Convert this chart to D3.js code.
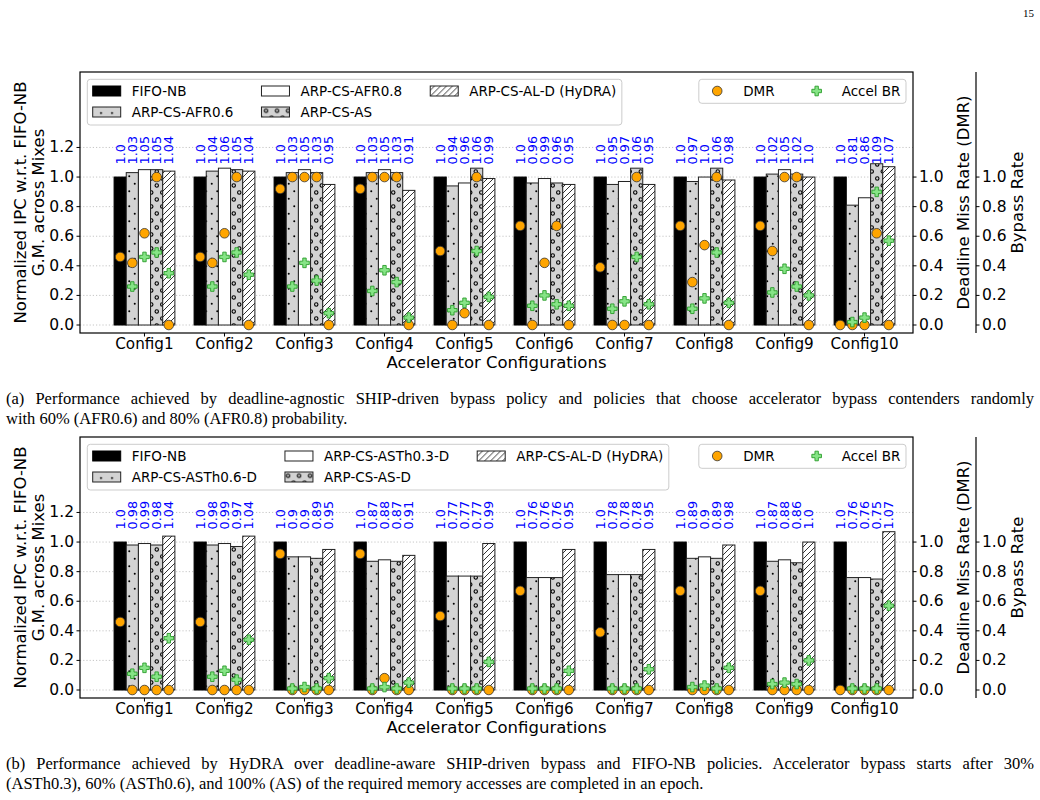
<!DOCTYPE html>
<html>
<head>
<meta charset="utf-8">
<script src="https://cdn.jsdelivr.net/npm/d3@7"></script>
<style>
    body { margin: 0; background: #fff; }
    svg text { font-family: "DejaVu Sans", sans-serif; }
    svg text.serif { font-family: "Liberation Serif", "Times New Roman", serif; }
</style>
</head>
<body>
<svg id="chart" width="1040" height="800"></svg>
<script>
const configs = ['Config1', 'Config2', 'Config3', 'Config4', 'Config5', 'Config6', 'Config7', 'Config8', 'Config9', 'Config10'];

// panel (a)
const seriesA = ['FIFO-NB', 'ARP-CS-AFR0.6', 'ARP-CS-AFR0.8', 'ARP-CS-AS', 'ARP-CS-AL-D (HyDRA)'];
const ipcA = [
    [1.0, 1.0, 1.0, 1.0, 1.0, 1.0, 1.0, 1.0, 1.0, 1.0],
    [1.03, 1.04, 1.03, 1.03, 0.94, 0.96, 0.95, 0.97, 1.02, 0.81],
    [1.05, 1.06, 1.05, 1.05, 0.96, 0.99, 0.97, 1.0, 1.05, 0.86],
    [1.05, 1.05, 1.03, 1.03, 1.06, 0.96, 1.06, 1.06, 1.02, 1.09],
    [1.04, 1.04, 0.95, 0.91, 0.99, 0.95, 0.95, 0.98, 1.0, 1.07]
];
const dmrA = [
    [0.46, 0.46, 0.92, 0.92, 0.5, 0.67, 0.39, 0.67, 0.67, 0.0],
    [0.42, 0.42, 1.0, 1.0, 0.0, 0.0, 0.0, 0.29, 0.5, 0.0],
    [0.62, 0.62, 1.0, 1.0, 0.08, 0.42, 0.0, 0.54, 1.0, 0.0],
    [1.0, 1.0, 1.0, 1.0, 1.0, 0.67, 1.0, 1.0, 1.0, 0.62],
    [0.0, 0.0, 0.0, 0.0, 0.0, 0.0, 0.0, 0.0, 0.0, 0.0]
];
const brA = [
    null,
    [0.26, 0.26, 0.26, 0.23, 0.10, 0.13, 0.11, 0.11, 0.22, 0.02],
    [0.46, 0.46, 0.42, 0.37, 0.15, 0.20, 0.16, 0.18, 0.38, 0.05],
    [0.49, 0.49, 0.30, 0.29, 0.50, 0.14, 0.46, 0.49, 0.26, 0.90],
    [0.35, 0.34, 0.08, 0.05, 0.19, 0.13, 0.14, 0.15, 0.20, 0.57]
];

// panel (b)
const seriesB = ['FIFO-NB', 'ARP-CS-ASTh0.6-D', 'ARP-CS-ASTh0.3-D', 'ARP-CS-AS-D', 'ARP-CS-AL-D (HyDRA)'];
const ipcB = [
    [1.0, 1.0, 1.0, 1.0, 1.0, 1.0, 1.0, 1.0, 1.0, 1.0],
    [0.98, 0.98, 0.9, 0.87, 0.77, 0.76, 0.78, 0.89, 0.87, 0.76],
    [0.99, 0.99, 0.9, 0.88, 0.77, 0.76, 0.78, 0.9, 0.88, 0.76],
    [0.98, 0.97, 0.89, 0.87, 0.77, 0.76, 0.78, 0.89, 0.86, 0.75],
    [1.04, 1.04, 0.95, 0.91, 0.99, 0.95, 0.95, 0.98, 1.0, 1.07]
];
const dmrB = [
    [0.46, 0.46, 0.92, 0.92, 0.5, 0.67, 0.39, 0.67, 0.67, 0.0],
    [0.0, 0.0, 0.0, 0.0, 0.0, 0.0, 0.0, 0.0, 0.0, 0.0],
    [0.0, 0.0, 0.0, 0.08, 0.0, 0.0, 0.0, 0.0, 0.0, 0.0],
    [0.0, 0.0, 0.0, 0.0, 0.0, 0.0, 0.0, 0.0, 0.0, 0.0],
    [0.0, 0.0, 0.0, 0.0, 0.0, 0.0, 0.0, 0.0, 0.0, 0.0]
];
const brB = [
    null,
    [0.11, 0.09, 0.01, 0.01, 0.01, 0.01, 0.01, 0.02, 0.04, 0.01],
    [0.15, 0.13, 0.02, 0.02, 0.01, 0.01, 0.01, 0.03, 0.05, 0.01],
    [0.09, 0.07, 0.01, 0.01, 0.01, 0.01, 0.01, 0.01, 0.04, 0.01],
    [0.35, 0.34, 0.08, 0.05, 0.19, 0.13, 0.14, 0.15, 0.20, 0.57]
];

const leftTicks = [0, 0.2, 0.4, 0.6, 0.8, 1.0, 1.2];
const rightTicks = [0, 0.2, 0.4, 0.6, 0.8, 1.0];
const markerLabels = ['DMR', 'Accel BR'];

const captionA = [
    '(a) Performance achieved by deadline-agnostic SHIP-driven bypass policy and policies that choose accelerator bypass contenders randomly',
    'with 60% (AFR0.6) and 80% (AFR0.8) probability.'
];
const captionB = [
    '(b) Performance achieved by HyDRA over deadline-aware SHIP-driven bypass and FIFO-NB policies. Accelerator bypass starts after 30%',
    '(ASTh0.3), 60% (ASTh0.6), and 100% (AS) of the required memory accesses are completed in an epoch.'
];

const svg = d3.select('#chart');
const defs = svg.append('defs');

// hatch patterns
const pDots = defs.append('pattern').attr('id', 'dots')
    .attr('patternUnits', 'userSpaceOnUse').attr('width', 11).attr('height', 15);
pDots.append('rect').attr('width', 11).attr('height', 15).attr('fill', '#d3d3d3');
[[2.75, 3.75], [8.25, 11.25]].forEach(([cx, cy]) => {
    pDots.append('circle').attr('cx', cx).attr('cy', cy).attr('r', 1).attr('fill', '#000');
});

const pRings = defs.append('pattern').attr('id', 'rings')
    .attr('patternUnits', 'userSpaceOnUse').attr('width', 11).attr('height', 14);
pRings.append('rect').attr('width', 11).attr('height', 14).attr('fill', '#d3d3d3');
[[2.75, 3.5], [8.25, 10.5]].forEach(([cx, cy]) => {
    pRings.append('circle').attr('cx', cx).attr('cy', cy).attr('r', 1.7)
        .attr('fill', 'none').attr('stroke', '#000').attr('stroke-width', 1.1);
});

const pHatch = defs.append('pattern').attr('id', 'hatch')
    .attr('patternUnits', 'userSpaceOnUse').attr('width', 6).attr('height', 6);
pHatch.append('rect').attr('width', 6).attr('height', 6).attr('fill', '#fff');
pHatch.append('path').attr('d', 'M0,6L6,0M-1,1L1,-1M5,7L7,5')
    .attr('stroke', '#000').attr('stroke-width', 0.8);

const barFills = ['#000', 'url(#dots)', '#fff', 'url(#rings)', 'url(#hatch)'];

const fmtVal = v => Number.isInteger(v) ? v.toFixed(1) : String(v);
const fmtTick = d3.format('.1f');

const left = 80, right = 913, bypassX = 976, panelH = 261;
const barW = 0.152;

const x = d3.scaleLinear().domain([-0.806, 9.606]).range([left, right]);

function plusPath(h, a) {
    return `M${-a},${-h}H${a}V${-a}H${h}V${a}H${a}V${h}H${-a}V${a}H${-h}V${-a}H${-a}Z`;
}

function drawLegend(g, items, lx, ly, alignRight) {
    const lg = g.append('g');
    const box = lg.append('rect').attr('rx', 3).attr('ry', 3)
        .attr('fill', '#fff').attr('fill-opacity', 0.8)
        .attr('stroke', '#cccccc').attr('stroke-width', 1);
    const rows = items.rows;
    const ncol = Math.ceil(items.list.length / rows);
    let cx = 5.4;
    for (let c = 0; c < ncol; c++) {
        let maxW = 0;
        for (let r = 0; r < rows; r++) {
            const item = items.list[c * rows + r];
            if (!item) continue;
            const cy = 11.7 + r * 21;
            item.handle(lg, cx, cy);
            const t = lg.append('text').attr('x', cx + 39).attr('y', cy)
                .attr('dominant-baseline', 'central').attr('font-size', 13.5)
                .attr('fill', '#000').text(item.label);
            maxW = Math.max(maxW, t.node().getComputedTextLength());
        }
        cx += 39 + maxW + 28;
    }
    const w = cx - 28 + 5.5;
    const h = rows === 1 ? 24 : 45.7;
    box.attr('width', w).attr('height', h);
    lg.attr('transform', `translate(${alignRight ? lx - w : lx},${ly})`);
}

function drawPanel(top, series, ipc, dmr, br, caption) {
    const bottom = top + panelH;
    const y = d3.scaleLinear().domain([-0.054, 1.71]).range([bottom, top]);
    const g = svg.append('g');

    // grid
    g.append('g').selectAll('line').data(leftTicks).join('line')
        .attr('x1', left).attr('x2', right)
        .attr('y1', d => y(d)).attr('y2', d => y(d))
        .attr('stroke', '#b8b8b8').attr('stroke-width', 0.8)
        .attr('stroke-dasharray', '1.2,2');

    // bars
    series.forEach((name, k) => {
        const off = (k - 2) * barW;
        g.append('g').selectAll('rect').data(ipc[k]).join('rect')
            .attr('x', (d, i) => x(i + off - barW / 2))
            .attr('width', x(barW) - x(0))
            .attr('y', d => y(d))
            .attr('height', d => y(0) - y(d))
            .attr('fill', barFills[k])
            .attr('stroke', k === 0 ? '#000' : '#222')
            .attr('stroke-width', 1);

        g.append('g').selectAll('text').data(ipc[k]).join('text')
            .attr('transform', (d, i) => `translate(${x(i + off)},${y(1.085)}) rotate(-90)`)
            .attr('dominant-baseline', 'central')
            .attr('font-size', 12.8).attr('fill', '#0000ff')
            .text(fmtVal);
    });

    // frame
    g.append('rect').attr('x', left).attr('y', top)
        .attr('width', right - left).attr('height', panelH)
        .attr('fill', 'none').attr('stroke', '#000').attr('stroke-width', 1.2);

    // left axis
    const ly = g.append('g');
    ly.selectAll('line').data(leftTicks).join('line')
        .attr('x1', left - 3.5).attr('x2', left)
        .attr('y1', d => y(d)).attr('y2', d => y(d)).attr('stroke', '#000');
    ly.selectAll('text').data(leftTicks).join('text')
        .attr('x', left - 6).attr('y', d => y(d))
        .attr('text-anchor', 'end').attr('dominant-baseline', 'central')
        .attr('font-size', 15.5).text(fmtTick);

    // x axis
    const xa = g.append('g');
    xa.selectAll('line').data(configs).join('line')
        .attr('x1', (d, i) => x(i)).attr('x2', (d, i) => x(i))
        .attr('y1', bottom).attr('y2', bottom + 3.5).attr('stroke', '#000');
    xa.selectAll('text').data(configs).join('text')
        .attr('x', (d, i) => x(i)).attr('y', bottom + 16)
        .attr('text-anchor', 'middle')
        .attr('font-size', 15.2).text(d => d);
    g.append('text').attr('x', (left + right) / 2).attr('y', bottom + 35)
        .attr('text-anchor', 'middle').attr('font-size', 16.5)
        .text('Accelerator Configurations');

    // left label
    const midY = (top + bottom) / 2;
    [['Normalized IPC w.r.t. FIFO-NB', 20], ['G.M. across Mixes', 38]].forEach(([t, lx]) => {
        g.append('text').attr('transform', `translate(${lx},${midY}) rotate(-90)`)
            .attr('text-anchor', 'middle').attr('dominant-baseline', 'central')
            .attr('font-size', 16.5).text(t);
    });

    // right axes (DMR, Bypass)
    [[right, 'Deadline Miss Rate (DMR)', 963], [bypassX, 'Bypass Rate', 1017]].forEach(([ax, label, labX]) => {
        const ra = g.append('g');
        if (ax !== right) {
            ra.append('line').attr('x1', ax).attr('x2', ax).attr('y1', top).attr('y2', bottom)
                .attr('stroke', '#000').attr('stroke-width', 1.2);
        }
        ra.selectAll('line.tk').data(rightTicks).join('line').attr('class', 'tk')
            .attr('x1', ax).attr('x2', ax + 3.5)
            .attr('y1', d => y(d)).attr('y2', d => y(d)).attr('stroke', '#000');
        ra.selectAll('text').data(rightTicks).join('text')
            .attr('x', ax + 6).attr('y', d => y(d))
            .attr('dominant-baseline', 'central')
            .attr('font-size', 15.5).text(fmtTick);
        g.append('text').attr('transform', `translate(${labX},${midY}) rotate(-90)`)
            .attr('text-anchor', 'middle').attr('dominant-baseline', 'central')
            .attr('font-size', 16.5).text(label);
    });

    // main legend
    drawLegend(g, {
        rows: 2,
        list: series.map((name, k) => ({
            label: name,
            handle: (lg, hx, hy) => lg.append('rect').attr('x', hx).attr('y', hy - 5)
                .attr('width', 28).attr('height', 10)
                .attr('fill', barFills[k]).attr('stroke', k === 0 ? '#000' : '#222')
                .attr('stroke-width', 1)
        }))
    }, left + 7.3, top + 7.3, false);

    // markers: DMR circles and Accel BR plus signs
    series.forEach((name, k) => {
        const off = (k - 2) * barW;
        g.append('g').selectAll('circle').data(dmr[k]).join('circle')
            .attr('cx', (d, i) => x(i + off)).attr('cy', d => y(d))
            .attr('r', 4.8).attr('fill', '#ffa500')
            .attr('stroke', '#333').attr('stroke-width', 0.8);
    });
    series.forEach((name, k) => {
        if (!br[k]) return;
        const off = (k - 2) * barW;
        g.append('g').selectAll('path').data(br[k]).join('path')
            .attr('transform', (d, i) => `translate(${x(i + off)},${y(d)})`)
            .attr('d', plusPath(4.8, 1.7))
            .attr('fill', '#86e486').attr('stroke', '#2a9d2a').attr('stroke-width', 0.9);
    });

    drawLegend(g, {
        rows: 1,
        list: [
            {
                label: markerLabels[0],
                handle: (lg, hx, hy) => lg.append('circle').attr('cx', hx + 13).attr('cy', hy)
                    .attr('r', 4.8).attr('fill', '#ffa500').attr('stroke', '#333').attr('stroke-width', 0.8)
            },
            {
                label: markerLabels[1],
                handle: (lg, hx, hy) => lg.append('path').attr('transform', `translate(${hx + 14},${hy})`)
                    .attr('d', plusPath(4.8, 1.7))
                    .attr('fill', '#86e486').attr('stroke', '#2a9d2a').attr('stroke-width', 0.9)
            }
        ]
    }, right - 7, top + 7.3, true);

    // caption, first line justified to the full width
    const l1 = svg.append('text').attr('class', 'serif')
        .attr('x', 6).attr('y', bottom + 71)
        .attr('font-size', 16.5).text(caption[0]);
    const natural = l1.node().getComputedTextLength();
    const spaces = caption[0].split(' ').length - 1;
    if (natural > 1028) {
        l1.attr('textLength', 1028).attr('lengthAdjust', 'spacingAndGlyphs');
    } else {
        l1.attr('word-spacing', (1028 - natural) / spaces);
    }
    svg.append('text').attr('class', 'serif')
        .attr('x', 6).attr('y', bottom + 91)
        .attr('font-size', 16.5).text(caption[1]);
}

drawPanel(72, seriesA, ipcA, dmrA, brA, captionA);
drawPanel(437, seriesB, ipcB, dmrB, brB, captionB);

svg.append('text').attr('class', 'serif').attr('x', 1034).attr('y', 17).attr('text-anchor', 'end')
    .attr('font-size', 11).text('15');
</script>
</body>
</html>
